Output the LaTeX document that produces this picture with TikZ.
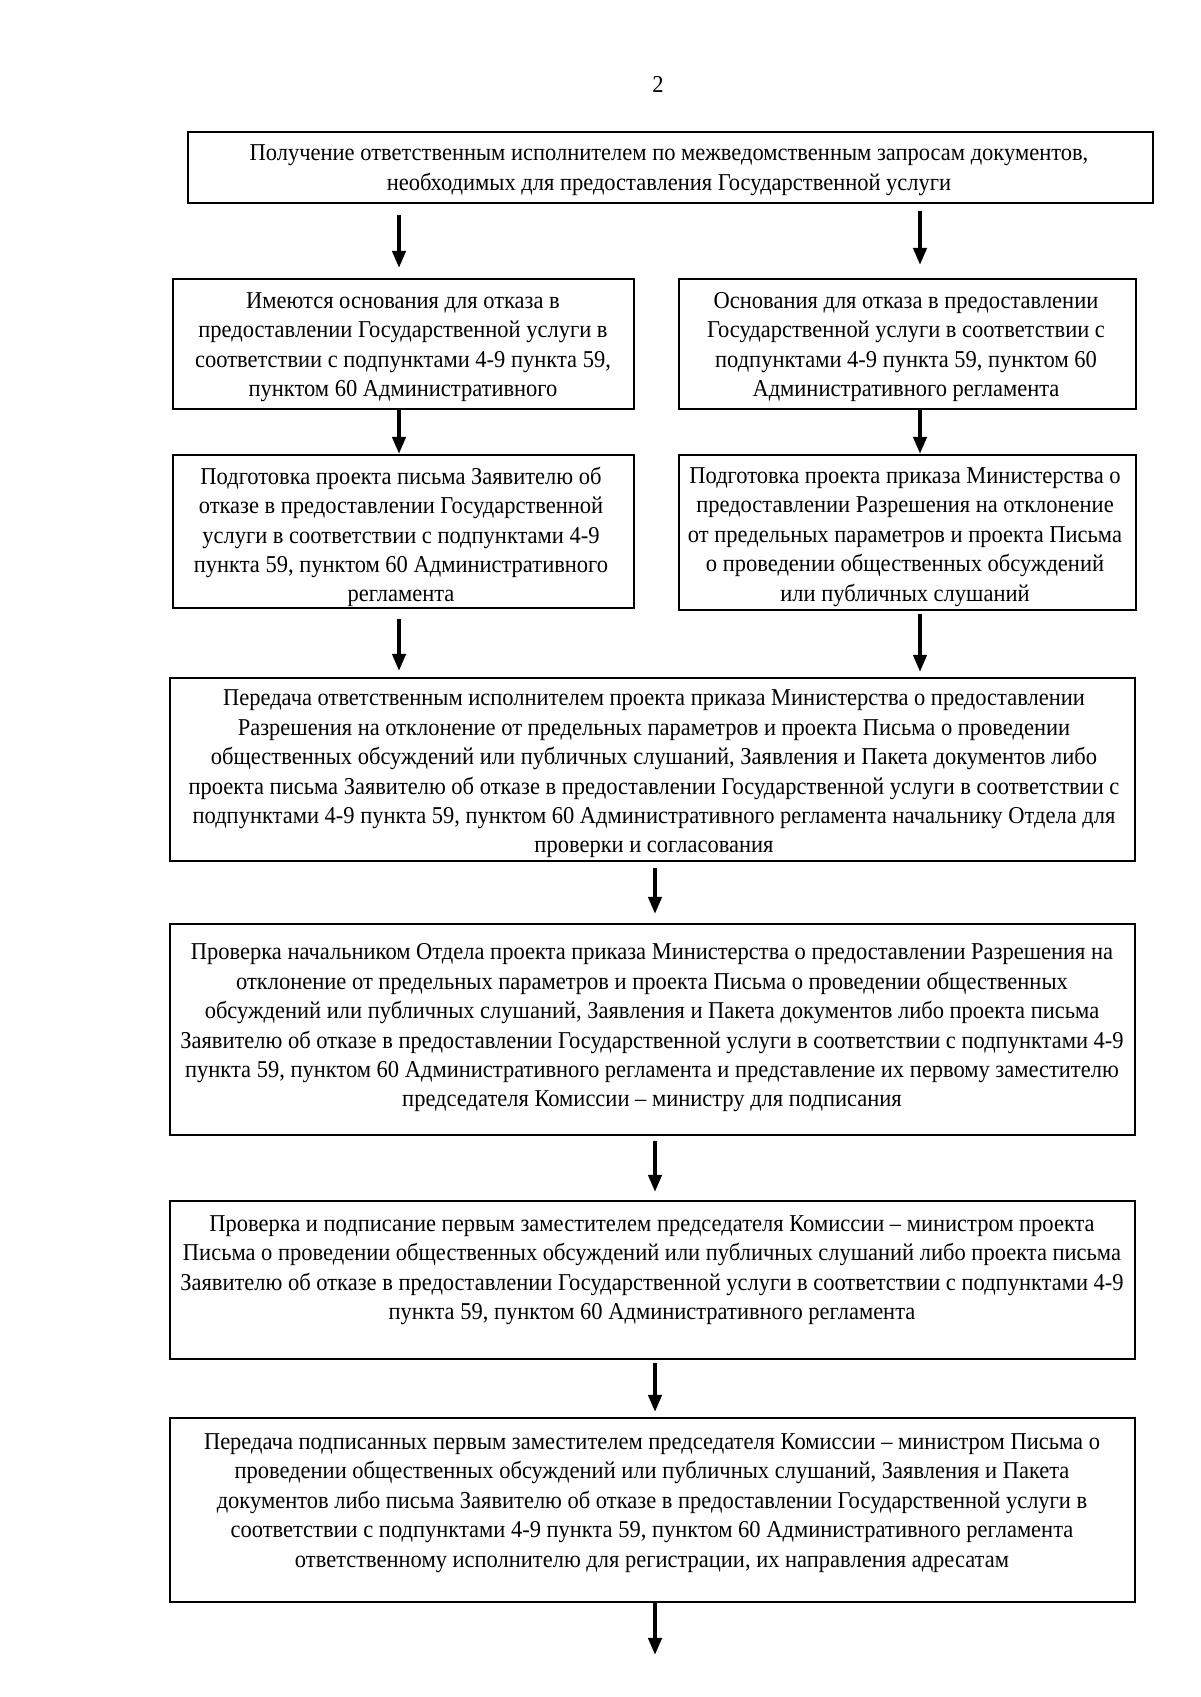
\documentclass[tikz,border=0pt]{standalone}
\usepackage{fontspec}
\setmainfont{Liberation Serif}
\newfontfamily\uzkij{Liberation Serif}[FakeStretch=0.93]
\usetikzlibrary{arrows.meta}
\newcommand\pxl{0.49606pt}
\tikzset{
  blok/.style={draw, line width=0.8pt, inner sep=0pt, anchor=north west},
  tekst/.style={align=center, inner sep=0pt, font=\uzkij\fontsize{12}{14.6}\selectfont},
  strelka/.style={line width=2pt, -{Triangle[width=6.5pt, length=8.5pt]}},
}
\begin{document}
\begin{tikzpicture}[x=0.49606pt, y=-0.49606pt]
\useasboundingbox (0,0) rectangle (1200,1697);

% 1. номер страницы
\node[tekst] (nomer) at (658,84) {2};

% 2. рамки
\node[blok, minimum width=965*\pxl, minimum height=71*\pxl] (A) at (187,131) {};
\node[blok, minimum width=461*\pxl, minimum height=130*\pxl] (B) at (172,278) {};
\node[blok, minimum width=457*\pxl, minimum height=130*\pxl] (C) at (678,278) {};
\node[blok, minimum width=461*\pxl, minimum height=153*\pxl] (D) at (172,454) {};
\node[blok, minimum width=457*\pxl, minimum height=155*\pxl] (E) at (678,454) {};
\node[blok, minimum width=965*\pxl, minimum height=183*\pxl] (F) at (169,677) {};
\node[blok, minimum width=965*\pxl, minimum height=211*\pxl] (G) at (169,923) {};
\node[blok, minimum width=965*\pxl, minimum height=158*\pxl] (H) at (169,1200) {};
\node[blok, minimum width=965*\pxl, minimum height=184*\pxl] (I) at (169,1417) {};

% 3. тексты
\node[tekst] (At) at (669,170) {Получение ответственным исполнителем по межведомственным запросам документов,\\
  необходимых для предоставления Государственной услуги};
\node[tekst] (Bt) at (403,347) {Имеются основания для отказа в\\
  предоставлении Государственной услуги в\\
  соответствии с подпунктами 4-9 пункта 59,\\
  пунктом 60 Административного};
\node[tekst] (Ct) at (906,347) {Основания для отказа в предоставлении\\
  Государственной услуги в соответствии с\\
  подпунктами 4-9 пункта 59, пунктом 60\\
  Административного регламента};
\node[tekst] (Dt) at (401,537) {Подготовка проекта письма Заявителю об\\
  отказе в предоставлении Государственной\\
  услуги в соответствии с подпунктами 4-9\\
  пункта 59, пунктом 60 Административного\\
  регламента};
\node[tekst] (Et) at (905,537) {Подготовка проекта приказа Министерства о\\
  предоставлении Разрешения на отклонение\\
  от предельных параметров и проекта Письма\\
  о проведении общественных обсуждений\\
  или публичных слушаний};
\node[tekst] (Ft) at (654,774) {Передача ответственным исполнителем проекта приказа Министерства о предоставлении\\
  Разрешения на отклонение от предельных параметров и проекта Письма о проведении\\
  общественных обсуждений или публичных слушаний, Заявления и Пакета документов либо\\
  проекта письма Заявителю об отказе в предоставлении Государственной услуги в соответствии с\\
  подпунктами 4-9 пункта 59, пунктом 60 Административного регламента начальнику Отдела для\\
  проверки и согласования};
\node[tekst] (Gt) at (652,1028) {Проверка начальником Отдела проекта приказа Министерства о предоставлении Разрешения на\\
  отклонение от предельных параметров и проекта Письма о проведении общественных\\
  обсуждений или публичных слушаний, Заявления и Пакета документов либо проекта письма\\
  Заявителю об отказе в предоставлении Государственной услуги в соответствии с подпунктами 4-9\\
  пункта 59, пунктом 60 Административного регламента и представление их первому заместителю\\
  председателя Комиссии – министру для подписания};
\node[tekst] (Ht) at (652,1270) {Проверка и подписание первым заместителем председателя Комиссии – министром проекта\\
  Письма о проведении общественных обсуждений или публичных слушаний либо проекта письма\\
  Заявителю об отказе в предоставлении Государственной услуги в соответствии с подпунктами 4-9\\
  пункта 59, пунктом 60 Административного регламента};
\node[tekst] (It) at (652,1503) {Передача подписанных первым заместителем председателя Комиссии – министром Письма о\\
  проведении общественных обсуждений или публичных слушаний, Заявления и Пакета\\
  документов либо письма Заявителю об отказе в предоставлении Государственной услуги в\\
  соответствии с подпунктами 4-9 пункта 59, пунктом 60 Административного регламента\\
  ответственному исполнителю для регистрации, их направления адресатам};

% 4. стрелки
\coordinate (kl) at (399,0);
\coordinate (kr) at (920,0);
\coordinate (km) at (655,0);
\coordinate (konec) at (655,1655);
\draw[strelka, shorten <=11*\pxl, shorten >=10*\pxl] (A.south -| kl) -- (B.north -| kl);
\draw[strelka, shorten <=7*\pxl, shorten >=13*\pxl] (A.south -| kr) -- (C.north -| kr);
\draw[strelka] (B.south -| kl) -- (D.north -| kl);
\draw[strelka] (C.south -| kr) -- (E.north -| kr);
\draw[strelka, shorten <=10*\pxl, shorten >=6*\pxl] (D.south -| kl) -- (F.north -| kl);
\draw[strelka, shorten <=3*\pxl, shorten >=5*\pxl] (E.south -| kr) -- (F.north -| kr);
\draw[strelka, shorten <=6*\pxl, shorten >=9*\pxl] (F.south -| km) -- (G.north -| km);
\draw[strelka, shorten <=5*\pxl, shorten >=8*\pxl] (G.south -| km) -- (H.north -| km);
\draw[strelka, shorten <=3*\pxl, shorten >=5*\pxl] (H.south -| km) -- (I.north -| km);
\draw[strelka] (I.south -| km) -- (konec);
\end{tikzpicture}
\end{document}
